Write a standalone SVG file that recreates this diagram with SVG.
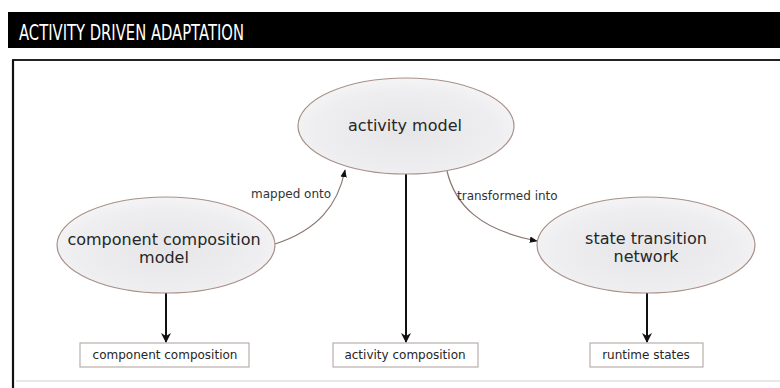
<svg xmlns="http://www.w3.org/2000/svg" width="780" height="388" viewBox="0 0 780 388">
  <style>
    .node ellipse { fill: url(#nodeFill); stroke: #a89088; stroke-width: 1.2; }
    .node text, .out text { font-family: "DejaVu Sans", sans-serif; fill: #262626; text-anchor: middle; }
    .node text { font-size: 16px; }
    .out rect { fill: #ffffff; stroke: #b8b0ac; stroke-width: 1.2; }
    .out text { font-size: 12px; }
    .edge-label { font-family: "DejaVu Sans", sans-serif; font-size: 12px; fill: #333; }
    .soft { fill: none; stroke: #8a7670; stroke-width: 1.2; }
    .hard { fill: none; stroke: #111; stroke-width: 2; }
  </style>
  <defs>
    <radialGradient id="nodeFill" cx="50%" cy="55%" r="60%">
      <stop offset="0" stop-color="#e6e6e8"/>
      <stop offset="0.7" stop-color="#eeeef0"/>
      <stop offset="1" stop-color="#f7f7f8"/>
    </radialGradient>
    <marker id="thin" viewBox="0 0 10 10" refX="9" refY="5" markerWidth="8" markerHeight="8" orient="auto" markerUnits="userSpaceOnUse">
      <path d="M0,1 L10,5 L0,9 Z" fill="#111"/>
    </marker>
    <marker id="thick" viewBox="0 0 10 14" refX="9" refY="7" markerWidth="14" markerHeight="14" orient="auto" markerUnits="userSpaceOnUse">
      <path d="M0,2 L10,7 L0,12 L3,7 Z" fill="#111"/>
    </marker>
  </defs>

  <rect width="780" height="388" fill="#ffffff"/>

  <!-- header band -->
  <g id="header">
    <rect x="8" y="12" width="772" height="36" fill="#000"/>
    <text x="19" y="40" font-family="'DejaVu Sans', sans-serif" font-size="21" fill="#fff" textLength="225" lengthAdjust="spacingAndGlyphs">ACTIVITY DRIVEN ADAPTATION</text>
  </g>

  <!-- panel frame -->
  <g id="panel">
    <line x1="12" y1="60" x2="780" y2="60" stroke="#222" stroke-width="2"/>
    <line x1="13" y1="60" x2="13" y2="388" stroke="#111" stroke-width="2.2"/>
    <line x1="16" y1="381" x2="780" y2="381" stroke="#e0e0e0" stroke-width="1.5"/>
  </g>

  <!-- connectors -->
  <g id="connectors">
    <path class="soft" d="M275,244 C318,230 338,205 345,170" marker-end="url(#thin)"/>
    <path class="soft" d="M447,171 C455,205 480,230 537,241" marker-end="url(#thin)"/>
    <line class="hard" x1="166" y1="293" x2="166" y2="342" marker-end="url(#thick)"/>
    <line class="hard" x1="406" y1="174" x2="406" y2="342" marker-end="url(#thick)"/>
    <line class="hard" x1="647" y1="293" x2="647" y2="342" marker-end="url(#thick)"/>
    <text class="edge-label" x="251" y="198">mapped onto</text>
    <text class="edge-label" x="457" y="200">transformed into</text>
  </g>

  <!-- model nodes -->
  <g id="activity-model" class="node">
    <ellipse cx="406" cy="126" rx="108" ry="48"/>
    <text x="405" y="131">activity model</text>
  </g>
  <g id="component-composition-model" class="node">
    <ellipse cx="166" cy="245" rx="109" ry="48"/>
    <text x="164" y="245">component composition</text>
    <text x="164" y="263">model</text>
  </g>
  <g id="state-transition-network" class="node">
    <ellipse cx="646" cy="245" rx="109" ry="48"/>
    <text x="646" y="244">state transition</text>
    <text x="646" y="262">network</text>
  </g>

  <!-- result boxes -->
  <g id="component-composition" class="out">
    <rect x="80" y="343" width="169" height="24"/>
    <text x="165" y="359">component composition</text>
  </g>
  <g id="activity-composition" class="out">
    <rect x="333" y="343" width="145" height="24"/>
    <text x="405" y="359">activity composition</text>
  </g>
  <g id="runtime-states" class="out">
    <rect x="590" y="343" width="113" height="24"/>
    <text x="646" y="359">runtime states</text>
  </g>
</svg>
